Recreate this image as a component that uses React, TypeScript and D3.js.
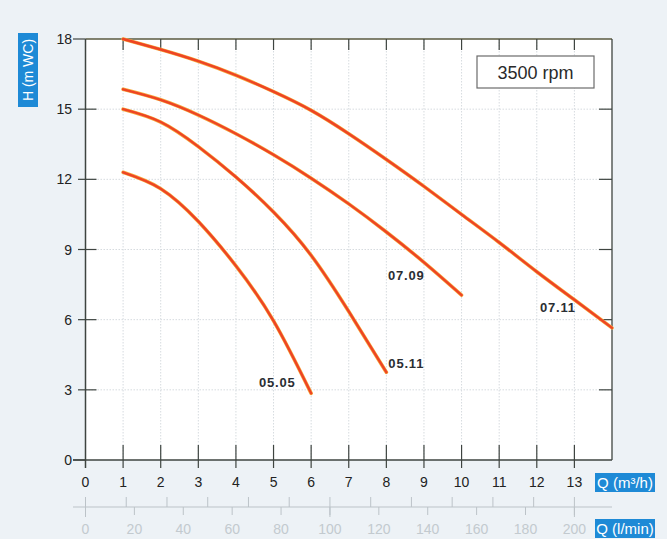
import * as d3 from 'd3';

// flow Q (m3/h) vs head H (m WC)
const q0505 = [1, 2, 3, 4, 5, 6];
const h0505 = [12.3, 11.6, 10.2, 8.3, 5.95, 2.85];
const q0511 = [1, 2, 3, 4, 5, 6, 7, 8];
const h0511 = [15.0, 14.45, 13.4, 12.1, 10.6, 8.75, 6.35, 3.75];
const q0709 = [1, 2, 3, 4, 5, 6, 7, 8, 9, 10];
const h0709 = [15.85, 15.4, 14.75, 13.95, 13.05, 12.05, 10.95, 9.75, 8.45, 7.05];
const q0711 = [1, 2, 3, 4, 5, 6, 7, 8, 9, 10, 11, 12, 13, 14];
const h0711 = [18, 17.55, 17.05, 16.45, 15.75, 14.95, 13.95, 12.85, 11.7, 10.5, 9.3, 8.05, 6.85, 5.65];

const curveNames = ['05.05', '05.11', '07.09', '07.11'];
// label anchor (Q, H) for each curve name
const labelQ = [5.1, 8.53, 8.53, 12.56];
const labelH = [3.1, 3.95, 7.7, 6.33];

const xTicks = [0, 1, 2, 3, 4, 5, 6, 7, 8, 9, 10, 11, 12, 13];
const yTicks = [0, 3, 6, 9, 12, 15, 18];
const lminTicks = [0, 20, 40, 60, 80, 100, 120, 140, 160, 180, 200];
const minorTicks = d3.range(0, 13);

const W = 667;
const H = 539;

export default function App() {
  const x = d3.scaleLinear().domain([0, 14]).range([85.5, 612]);
  const y = d3.scaleLinear().domain([0, 18]).range([460, 39]);
  // the l/min scale as printed: 0..200 spans Q 0..13
  const xl = d3.scaleLinear().domain([0, 200]).range([x(0), x(13)]);
  const xm = d3.scaleLinear().domain([0, 12]).range([x(0), x(13)]);

  const series = [
    { q: q0505, h: h0505 },
    { q: q0511, h: h0511 },
    { q: q0709, h: h0709 },
    { q: q0711, h: h0711 },
  ];

  const line = d3.line<[number, number]>()
    .x(d => x(d[0]))
    .y(d => y(d[1]))
    .curve(d3.curveNatural);

  const axisCol = '#3e4440';
  const font = '"Liberation Sans", Arial, sans-serif';
  const secY = 507;

  return (
    <svg width={W} height={H} style={{ position: 'fixed', left: 0, top: 0 }} fontFamily={font}>
      <rect width={W} height={H} fill="#edf2f6" />
      <rect x={x(0)} y={y(18)} width={x(14) - x(0)} height={y(0) - y(18)} fill="#ffffff" />

      {/* grid */}
      {xTicks.filter(t => t > 0).map(t => (
        <line key={'gx' + t} x1={x(t)} x2={x(t)} y1={y(18)} y2={y(0)}
          stroke="#d6dbdf" strokeWidth={1} strokeDasharray="1.5,1.5" />
      ))}
      {yTicks.filter(t => t > 0 && t < 18).map(t => (
        <line key={'gy' + t} x1={x(0)} x2={x(14)} y1={y(t)} y2={y(t)}
          stroke="#d6dbdf" strokeWidth={1} strokeDasharray="1.5,1.5" />
      ))}

      {/* frame */}
      <line x1={x(0)} x2={x(14)} y1={y(18)} y2={y(18)} stroke="#5a5a40" strokeWidth={1.3} />
      <line x1={x(14)} x2={x(14)} y1={y(18)} y2={y(0)} stroke={axisCol} strokeWidth={1.3} />
      <line x1={73} x2={x(14)} y1={y(0)} y2={y(0)} stroke={axisCol} strokeWidth={1.5} />
      <line x1={x(0)} x2={x(0)} y1={y(18)} y2={468} stroke={axisCol} strokeWidth={1.5} />

      {/* top and bottom ticks */}
      {xTicks.filter(t => t > 0).map(t => (
        <g key={'tx' + t}>
          <line x1={x(t)} x2={x(t)} y1={y(18)} y2={y(18) + 11} stroke={axisCol} strokeWidth={1.2} />
          <line x1={x(t)} x2={x(t)} y1={y(0) - 15} y2={y(0) + 8} stroke={axisCol} strokeWidth={1.2} />
        </g>
      ))}
      {/* left and right ticks */}
      {yTicks.map(t => (
        <g key={'ty' + t}>
          <line x1={t === 0 || t === 18 ? 73 : 78} x2={t === 0 || t === 18 ? x(0) : x(0) + 11}
            y1={y(t)} y2={y(t)} stroke={axisCol} strokeWidth={1.2} />
          {t > 0 && t < 18 && (
            <line x1={x(14) - 13} x2={x(14)} y1={y(t)} y2={y(t)} stroke={axisCol} strokeWidth={1.2} />
          )}
        </g>
      ))}

      {/* tick labels */}
      {xTicks.map(t => (
        <text key={'lx' + t} x={x(t)} y={487} textAnchor="middle" fontSize={14} fill="#222">{t}</text>
      ))}
      {yTicks.map(t => (
        <text key={'ly' + t} x={72} y={y(t) + 5} textAnchor="end" fontSize={14} fill="#222">{t}</text>
      ))}

      {/* secondary l/min axis */}
      <line x1={73} x2={x(14)} y1={secY} y2={secY} stroke="#bcc3c8" strokeWidth={1} />
      {minorTicks.map(t => (
        <line key={'mt' + t} x1={xm(t)} x2={xm(t)} y1={secY - 10} y2={t % 6 === 0 ? secY + 10 : secY}
          stroke="#bcc3c8" strokeWidth={1} />
      ))}
      {lminTicks.map(t => (
        <g key={'lm' + t}>
          <line x1={xl(t)} x2={xl(t)} y1={secY} y2={secY + 8} stroke="#bcc3c8" strokeWidth={1} />
          <text x={xl(t)} y={534} textAnchor="middle" fontSize={14} fill="#c3cacf">{t}</text>
        </g>
      ))}

      {/* axis title boxes */}
      <rect x={18} y={33} width={20} height={74} fill="#1e8ad6" />
      <text transform="translate(33,70) rotate(-90)" textAnchor="middle" fontSize={14} fill="#fff">H (m WC)</text>
      <rect x={595} y={473} width={60} height={19} fill="#1e8ad6" />
      <text x={625} y={488} textAnchor="middle" fontSize={15} fill="#fff">Q (m³/h)</text>
      <rect x={595} y={519} width={60} height={19} fill="#1e8ad6" />
      <text x={625} y={534} textAnchor="middle" fontSize={15} fill="#fff">Q (l/min)</text>

      {/* rpm box */}
      <rect x={477} y={56} width={117} height={32} fill="#fff" stroke="#6b6b6b" strokeWidth={1.2} />
      <text x={535.5} y={79} textAnchor="middle" fontSize={18} fill="#2a2a2a">3500 rpm</text>

      {/* curves */}
      {series.map((s, i) => {
        const pts = s.q.map((q, j) => [q, s.h[j]] as [number, number]);
        const d = line(pts) || '';
        return (
          <g key={'c' + i}>
            <path d={d} fill="none" stroke="#f6a83c" strokeWidth={3.6} strokeLinecap="round" />
            <path d={d} fill="none" stroke="#ee4424" strokeWidth={2.4} strokeLinecap="round" />
          </g>
        );
      })}
      {curveNames.map((n, i) => (
        <text key={'n' + n} x={x(labelQ[i])} y={y(labelH[i])} textAnchor="middle"
          fontSize={13} fontWeight="bold" letterSpacing={0.8} fill="#2a2e33">{n}</text>
      ))}
    </svg>
  );
}
